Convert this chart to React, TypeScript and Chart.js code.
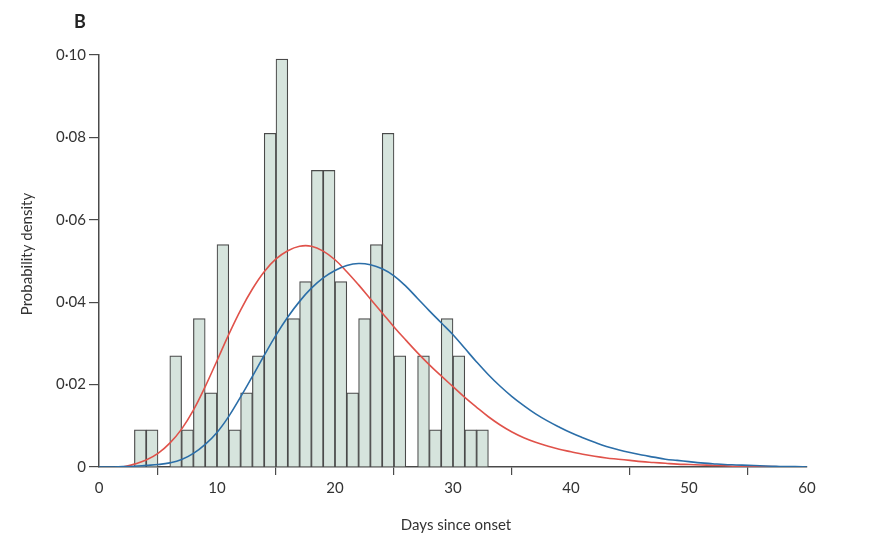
import React, { useEffect, useRef } from "react";
import { Chart, registerables } from "chart.js";

Chart.register(...registerables);

// Histogram: left edge of each 1-day bin and its density
const binStarts = [3, 4, 5, 6, 7, 8, 9, 10, 11, 12, 13, 14, 15, 16, 17, 18, 19, 20, 21, 22, 23, 24, 25, 26, 27, 28, 29, 30, 31, 32];
const binDensity = [
  0.009, 0.009, 0, 0.027, 0.009, 0.036, 0.018, 0.054, 0.009, 0.018, 0.027, 0.081, 0.099, 0.036, 0.045,
  0.072, 0.072, 0.045, 0.018, 0.036, 0.054, 0.081, 0.027, 0, 0.027, 0.009, 0.036, 0.027, 0.009, 0.009,
];

// Fitted curves read at whole days
const redDays = [2, 3, 4, 5, 6, 7, 8, 9, 10, 11, 12, 13, 14, 15, 16, 17, 18, 19, 20, 21, 22, 23, 24, 25, 26, 27, 28, 29, 30, 31, 32, 33, 34, 35, 36, 37, 38, 39, 40, 41, 42, 43, 44, 45, 46, 47, 48, 49, 50, 51, 52, 53, 54, 55, 56, 57, 58];
const redValues = [
  0.0, 0.0007, 0.0017, 0.0033, 0.0058, 0.0092, 0.0138, 0.0195, 0.0258, 0.0322, 0.0381, 0.0432, 0.0474,
  0.0505, 0.0525, 0.0536, 0.0536, 0.0524, 0.0503, 0.0474, 0.0442, 0.0408, 0.0374, 0.034, 0.0308, 0.0277,
  0.0248, 0.0221, 0.0195, 0.0169, 0.0145, 0.0122, 0.0102, 0.0085, 0.0071, 0.006, 0.0051, 0.0043, 0.0037,
  0.0031, 0.0026, 0.0022, 0.0019, 0.0016, 0.0013, 0.0011, 0.0009, 0.0007, 0.0006, 0.0005, 0.0004, 0.0003,
  0.0002, 0.0002, 0.0001, 0.0001, 0.0,
];
const blueDays = [0, 1, 2, 3, 4, 5, 6, 7, 8, 9, 10, 11, 12, 13, 14, 15, 16, 17, 18, 19, 20, 21, 22, 23, 24, 25, 26, 27, 28, 29, 30, 31, 32, 33, 34, 35, 36, 37, 38, 39, 40, 41, 42, 43, 44, 45, 46, 47, 48, 49, 50, 51, 52, 53, 54, 55, 56, 57, 58, 59, 60];
const blueValues = [
  0.0, 0.0, 0.0001, 0.0002, 0.0004, 0.0006, 0.001, 0.0018, 0.0033, 0.0055, 0.0084, 0.0123, 0.017, 0.022,
  0.0271, 0.032, 0.0364, 0.0402, 0.0434, 0.0459, 0.0477, 0.0489, 0.0494, 0.0491, 0.0481, 0.0464, 0.0439,
  0.0409, 0.0379, 0.035, 0.0321, 0.0288, 0.0255, 0.0224, 0.0196, 0.0171, 0.0149, 0.0129, 0.0112, 0.0097,
  0.0083, 0.0071, 0.006, 0.005, 0.0042, 0.0035, 0.0029, 0.0024, 0.0019, 0.0016, 0.0013, 0.001, 0.0008,
  0.0006, 0.0005, 0.0004, 0.0003, 0.0002, 0.0001, 0.0001, 0.0,
];

const xTickValues = [0, 10, 20, 30, 40, 50, 60];
const yTickValues = [0, 0.02, 0.04, 0.06, 0.08, 0.1];

const panelLabel = "B";
const xTitle = "Days since onset";
const yTitle = "Probability density";

const FONT = "Lato, 'Open Sans', sans-serif";
const AXIS = "#4a4a4a";

export default function App() {
  const ref = useRef<HTMLCanvasElement | null>(null);

  useEffect(() => {
    const canvas = ref.current;
    if (!canvas) return;

    const textPlugin = {
      id: "textPlugin",
      afterDraw(chart: any) {
        const ctx = chart.ctx;
        ctx.save();
        ctx.fillStyle = "#222";
        ctx.font = `bold 18px ${FONT}`;
        ctx.textAlign = "left";
        ctx.textBaseline = "middle";
        ctx.fillText(panelLabel, 74, 22);

        ctx.fillStyle = "#333";
        ctx.font = `15px ${FONT}`;
        ctx.textAlign = "center";
        ctx.fillText(xTitle, 456, 525);

        ctx.translate(27, 254);
        ctx.rotate(-Math.PI / 2);
        ctx.fillText(yTitle, 0, 0);
        ctx.restore();
      },
    };

    const chart = new Chart(canvas, {
      type: "bar",
      data: {
        datasets: [
          {
            type: "line",
            label: "fit 1",
            data: redDays.map((d, i) => ({ x: d, y: redValues[i] })),
            borderColor: "#e0524a",
            borderWidth: 1.6,
            pointRadius: 0,
            tension: 0.4,
            fill: false,
            order: 1,
          } as any,
          {
            type: "line",
            label: "fit 2",
            data: blueDays.map((d, i) => ({ x: d, y: blueValues[i] })),
            borderColor: "#2b6ea8",
            borderWidth: 1.6,
            pointRadius: 0,
            tension: 0.4,
            fill: false,
            order: 0,
          } as any,
          {
            type: "bar",
            label: "observed",
            data: binStarts.map((d, i) => ({ x: d + 0.5, y: binDensity[i] > 0 ? binDensity[i] : null })),
            backgroundColor: "#d6e4dd",
            borderColor: "#4a4a4a",
            borderWidth: 1.2,
            borderSkipped: "bottom",
            barPercentage: 1,
            categoryPercentage: 1,
            order: 2,
          } as any,
        ],
      },
      options: {
        responsive: false,
        animation: false,
        events: [],
        layout: { padding: { left: 0, top: 55, right: 82, bottom: 12 } },
        plugins: {
          legend: { display: false },
          tooltip: { enabled: false },
          title: { display: false },
        },
        scales: {
          x: {
            type: "linear",
            min: 0,
            max: 60,
            offset: false,
            afterBuildTicks: (scale: any) => {
              scale.ticks = xTickValues.map((v) => ({ value: v }));
            },
            afterFit: (scale: any) => {
              scale.height = 70;
            },
            grid: {
              drawOnChartArea: false,
              drawTicks: true,
              tickLength: 8,
              color: AXIS,
              lineWidth: 1.2,
            },
            border: { display: true, color: AXIS, width: 1.5 },
            ticks: {
              color: "#333",
              font: { family: FONT, size: 15 },
              padding: 4,
              maxRotation: 0,
              callback: (v: any) => String(v),
            },
          },
          y: {
            type: "linear",
            min: 0,
            max: 0.1,
            afterBuildTicks: (scale: any) => {
              scale.ticks = yTickValues.map((v) => ({ value: v }));
            },
            afterFit: (scale: any) => {
              scale.width = 99;
            },
            grid: {
              drawOnChartArea: false,
              drawTicks: true,
              tickLength: 10,
              color: AXIS,
              lineWidth: 1.2,
            },
            border: { display: true, color: AXIS, width: 1.5 },
            ticks: {
              color: "#333",
              font: { family: FONT, size: 15 },
              padding: 3,
              callback: (v: any) => (Number(v) === 0 ? "0" : Number(v).toFixed(2).replace(".", "\u00b7")),
            },
          },
        },
      },
      plugins: [textPlugin],
    });

    return () => chart.destroy();
  }, []);

  return (
    <div style={{ position: "absolute", left: 0, top: 0, width: 889, height: 549, background: "#fff" }}>
      <canvas ref={ref} width={889} height={549} style={{ display: "block" }} />
    </div>
  );
}
